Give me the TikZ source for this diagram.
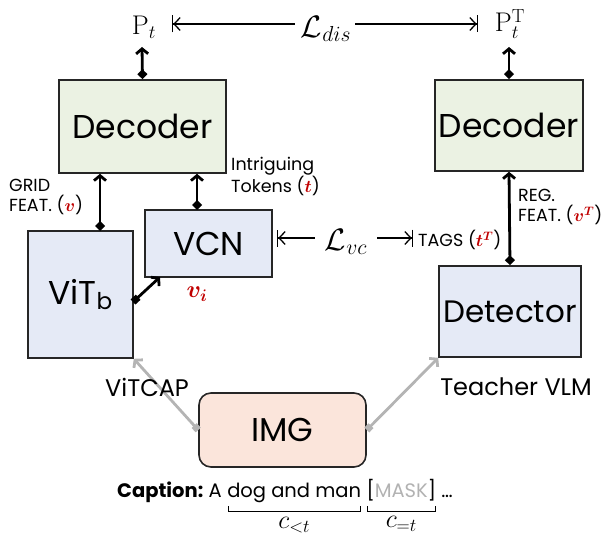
\RequirePackage{fix-cm}
\documentclass[tikz,border=0pt]{standalone}
\usepackage{amsmath,amssymb}
\usepackage{fontspec}
\usetikzlibrary{arrows.meta,calc}
\newfontfamily\comic{Poppins}
\definecolor{decfill}{HTML}{EBF2E3}
\definecolor{bluefill}{HTML}{E5EAF6}
\definecolor{imgfill}{HTML}{FBE5DB}
\definecolor{redm}{HTML}{C00000}
\definecolor{grayarr}{HTML}{B4B4B4}
\begin{document}
\begin{tikzpicture}[x=1pt,y=-1pt,
  box/.style={draw=black!85,line width=1.6pt,inner sep=0pt},
  bigtxt/.style={font=\comic\fontsize{33}{36}\selectfont},
  midtxt/.style={font=\comic\fontsize{24}{27}\selectfont},
  smalltxt/.style={font=\comic\fontsize{17.5}{20}\selectfont,align=left,inner sep=0pt},
  mathtxt/.style={font=\fontsize{27}{30}\selectfont,inner sep=0pt},
  losstxt/.style={font=\fontsize{31}{34}\selectfont,inner sep=0pt},
  bigarrow/.style={line width=2.8pt,{Diamond[length=10pt,width=10pt]}-{Straight Barb[length=5pt,width=12pt]}},
  sqarrow/.style={line width=2.8pt,{Square[length=7pt,width=7pt]}-{Straight Barb[length=5pt,width=12pt]}},
  grayarrow/.style={draw=grayarr,line width=2.8pt,{Square[length=6pt,width=7pt]}-{Straight Barb[length=5pt,width=12pt]}},
  loss/.style={line width=1.3pt,-{Straight Barb[length=6pt,width=13pt]Bar[width=17pt]}},
  capt/.style={font=\comic\fontsize{19.5}{22}\selectfont,inner sep=0pt,anchor=base west},
  brk/.style={line width=1pt}
]
\useasboundingbox (0,0) rectangle (612,540);

% boxes
\node[box,fill=decfill,minimum width=167pt,minimum height=93pt,bigtxt] (decL) at (142.5,126.5) {Decoder};
\node[box,fill=decfill,minimum width=148pt,minimum height=91pt,bigtxt] (decR) at (509,125.5) {Decoder};
\node[box,fill=bluefill,minimum width=105pt,minimum height=127pt,bigtxt] (vit) at (80.5,294.5) {ViT\textsubscript{b}};
\node[box,fill=bluefill,minimum width=127pt,minimum height=67pt,bigtxt] (vcn) at (208.5,243.5) {VCN};
\node[box,fill=bluefill,minimum width=142pt,minimum height=91pt,font=\comic\fontsize{31}{34}\selectfont] (det) at (510,311.5) {Detector};
\node[box,fill=imgfill,rounded corners=12pt,minimum width=167pt,minimum height=74pt,bigtxt] (img) at (282.5,430) {IMG};

% image inputs (behind the labels)
\draw[grayarrow] (img.west) -- (vit.south east);
\draw[grayarrow] (img.east) -- (det.south west);

% top outputs and distillation loss
\node[mathtxt] (Pt) at (144,27) {$\mathrm{P}_t$};
\node[mathtxt] (PtT) at (510,24) {$\mathrm{P}_t^{\mathrm{T}}$};
\node[losstxt] (ldis) at (326,29) {$\mathcal{L}_{dis}$};
\coordinate (dl) at (172,24);
\coordinate (dr) at (478,24);
\draw[loss] ([xshift=-6pt]ldis.west |- dl) -- (dl);
\draw[loss] ([xshift=4pt]ldis.east |- dr) -- (dr);

\coordinate (ptb) at (142,47);
\coordinate (pttb) at (509,47);
\draw[bigarrow] (decL.north) -- (ptb);
\draw[bigarrow] (decR.north) -- (pttb);

% student side
\coordinate (gf) at (100,231);
\draw[bigarrow] (gf) -- (gf |- decL.south);
\coordinate (it) at (197,210);
\draw[bigarrow] (it) -- (it |- decL.south);
\coordinate (vo) at (133,302);
\coordinate (vin) at (160,277);
\draw[sqarrow] (vo) -- (vin);

\node[smalltxt,anchor=north west] (grid) at (9,179) {GRID\\FEAT. (\textcolor{redm}{$\boldsymbol{v}$})};
\node[smalltxt,anchor=north west] (intr) at (231,157) {Intriguing\\Tokens (\textcolor{redm}{$\boldsymbol{t}$})};
\node[font=\fontsize{24}{26}\selectfont,text=redm] (vi) at (197,294) {$\boldsymbol{v_i}$};

% vc loss
\node[losstxt] (lvc) at (346,242) {$\mathcal{L}_{vc}$};
\coordinate (vl) at (277,238);
\coordinate (vr) at (413,238);
\draw[loss] ([xshift=-10pt]lvc.west |- vl) -- (vl);
\draw[loss] ([xshift=10pt]lvc.east |- vr) -- (vr);
\node[smalltxt,anchor=west] (tags) at (418,240) {TAGS (\textcolor{redm}{$\boldsymbol{t^T}$})};

% teacher side
\draw[bigarrow] (det.north) -- (decR.south);
\node[smalltxt,anchor=north west] (reg) at (518,189) {REG.\\FEAT. (\textcolor{redm}{$\boldsymbol{v^T}$})};

% labels
\node[midtxt] (vitcap) at (147,387) {ViTCAP};
\node[midtxt] (teacher) at (516,387) {Teacher VLM};

% caption
\node[capt,font=\comic\bfseries\fontsize{19.5}{22}\selectfont] (cap) at (117,497) {Caption:};
\node[capt] (wa) at ([xshift=5pt]cap.base east) {A};
\node[capt] (dog) at ([xshift=5pt]wa.base east) {dog and man};
\node[capt] (mask) at ([xshift=5pt]dog.base east) {[\textcolor{black!30}{MASK}]};
\node[capt] (dots) at ([xshift=5pt]mask.base east) {\dots};
\draw[brk] ($(dog.base west)+(1,9)$) -- ++(0,5) -| ($(dog.base east)+(-1,9)$);
\draw[brk] ($(mask.base west)+(1,9)$) -- ++(0,5) -| ($(mask.base east)+(-1,9)$);
\node[font=\fontsize{26}{28}\selectfont] (clt) at ($(dog.base west)!0.5!(dog.base east)+(0,28)$) {$c_{<t}$};
\node[font=\fontsize{26}{28}\selectfont] (ceq) at ($(mask.base west)!0.5!(mask.base east)+(0,27)$) {$c_{=t}$};
\end{tikzpicture}
\end{document}
